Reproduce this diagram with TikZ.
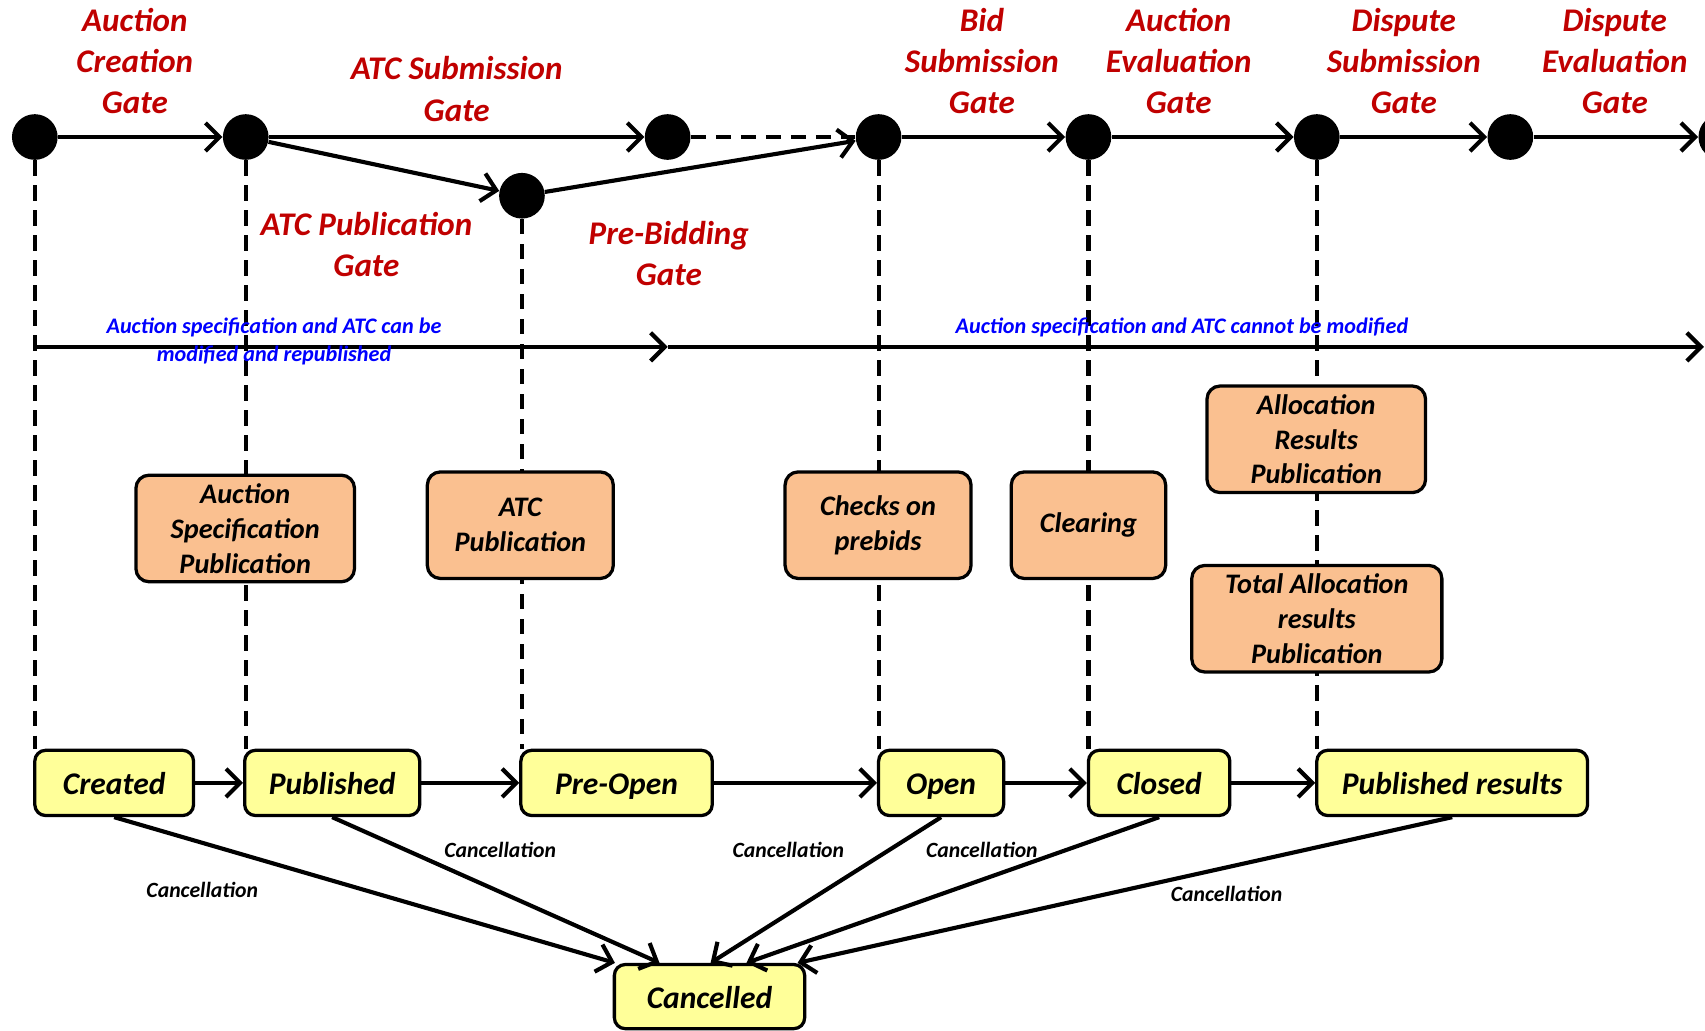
\documentclass[tikz,border=0pt]{standalone}
\usepackage{fontspec}
\setmainfont{Carlito}
\usetikzlibrary{arrows.meta}
\definecolor{gatered}{RGB}{192,0,0}
\definecolor{orangefill}{RGB}{250,192,144}
\definecolor{yellowfill}{RGB}{255,255,153}
\definecolor{noteblue}{RGB}{0,0,255}
\begin{document}
\begin{tikzpicture}[x=0.5pt,y=-0.5pt,
  gate/.style={circle,fill=black,minimum size=21pt,inner sep=0pt},
  arr/.style={line width=1.9pt,-{Straight Barb[length=6.5pt,width=13pt]}},
  dline/.style={line width=1.9pt,dash pattern=on 7pt off 4.5pt},
  redlbl/.style={text=gatered,font=\fontsize{15.2}{19}\selectfont\bfseries\itshape,align=center,inner sep=0pt},
  bluelbl/.style={text=noteblue,font=\fontsize{10.2}{12.5}\selectfont\bfseries\itshape,align=center,inner sep=0pt},
  cancl/.style={font=\fontsize{10}{12}\selectfont\bfseries\itshape,inner sep=0pt},
  actbox/.style={draw,line width=1.5pt,rounded corners=6pt,fill=orangefill,
    font=\fontsize{13}{16}\selectfont\bfseries\itshape,align=center,inner sep=0pt,minimum height=49pt},
  statebox/.style={draw,line width=1.5pt,rounded corners=5pt,fill=yellowfill,
    font=\fontsize{14.5}{17}\selectfont\bfseries\itshape,align=center,inner sep=0pt,
    text height=12pt,text depth=1.5pt,minimum height=30pt}]
\useasboundingbox (0,0) rectangle (1568,948);
\clip (0,0) rectangle (1568,948);

% gates
\node[gate] (g1) at (32,126) {};
\node[gate] (g2) at (226,126) {};
\node[gate] (g3) at (614,126) {};
\node[gate] (g4) at (808,126) {};
\node[gate] (g5) at (1001,126) {};
\node[gate] (g6) at (1211,126) {};
\node[gate] (g7) at (1389,126) {};
\node[gate] (g8) at (1583,126) {};
\node[gate] (gp) at (480,180) {};

% gate labels
\node[redlbl] (l1) at (124,56) {Auction\\Creation\\Gate};
\node[redlbl] (l2) at (420,82) {ATC Submission\\Gate};
\node[redlbl] (l3) at (337,225) {ATC Publication\\Gate};
\node[redlbl] (l4) at (615,233) {Pre-Bidding\\Gate};
\node[redlbl] (l5) at (903,56) {Bid\\Submission\\Gate};
\node[redlbl] (l6) at (1084,56) {Auction\\Evaluation\\Gate};
\node[redlbl] (l7) at (1291,56) {Dispute\\Submission\\Gate};
\node[redlbl] (l8) at (1485,56) {Dispute\\Evaluation\\Gate};

% state boxes
\node[statebox,minimum width=73pt] (created) at (105,720) {Created};
\node[statebox,minimum width=80.5pt] (published) at (305.5,720) {Published};
\node[statebox,minimum width=88pt] (preopen) at (567,720) {Pre-Open};
\node[statebox,minimum width=57.5pt] (open) at (865.5,720) {Open};
\node[statebox,minimum width=65pt] (closed) at (1066,720) {Closed};
\node[statebox,minimum width=124.5pt] (pubres) at (1335.5,720) {Published results};
\node[statebox,minimum width=87.5pt,minimum height=29.5pt] (cancelled) at (652.5,916.5) {Cancelled};

% vertical dashed lines (behind activity boxes)
\draw[dline] (g1.south) -- (g1.south |- created.north);
\draw[dline] (g2.south) -- (g2.south |- published.north);
\draw[dline] (gp.south) -- (gp.south |- preopen.north);
\draw[dline] (g4.south) -- (g4.south |- open.north);
\draw[dline] (g5.south) -- (g5.south |- closed.north);
\draw[dline] (g6.south) -- (g6.south |- pubres.north);

% gate connectors
\draw[arr] (g1) -- (g2);
\draw[arr] (g2) -- (g3);
\draw[dline] (g3) -- (g4);
\draw[arr] (g2) -- (gp);
\draw[arr] (gp) -- (g4);
\draw[arr] (g4) -- (g5);
\draw[arr] (g5) -- (g6);
\draw[arr] (g6) -- (g7);
\draw[arr] (g7) -- (g8);

% modification timeline
\coordinate (b0) at (32,319);
\coordinate (b1) at (614,319);
\coordinate (b2) at (1567,319);
\draw[arr] (b0) -- (b1);
\draw[arr] (b1) -- (b2);
\node[bluelbl] (n1) at (252,314) {Auction specification and ATC can be\\modified and republished};
\node[bluelbl] (n2) at (1087,301) {Auction specification and ATC cannot be modified};

% activity boxes
\node[actbox,minimum width=100.5pt] (asp) at (225.5,486) {Auction\\Specification\\Publication};
\node[actbox,minimum width=85.5pt] (atcpub) at (478.5,483) {ATC\\Publication};
\node[actbox,minimum width=85.5pt] (checks) at (807.5,483) {Checks on\\prebids};
\node[actbox,minimum width=71pt] (clearing) at (1001,483) {Clearing};
\node[actbox,minimum width=100.5pt] (alloc) at (1210.5,404) {Allocation\\Results\\Publication};
\node[actbox,minimum width=115pt] (total) at (1211,569) {Total Allocation\\results\\Publication};

% state transitions
\draw[arr] (created) -- (published);
\draw[arr] (published) -- (preopen);
\draw[arr] (preopen) -- (open);
\draw[arr] (open) -- (closed);
\draw[arr] (closed) -- (pubres);

% cancellations
\draw[arr] (created.south) -- ([xshift=1pt]cancelled.north west);
\draw[arr] (published.south) -- ([xshift=21.5pt]cancelled.north west);
\draw[arr] (open.south) -- ([xshift=45pt]cancelled.north west);
\draw[arr] (closed.south) -- ([xshift=61.5pt]cancelled.north west);
\draw[arr] (pubres.south) -- ([xshift=85pt]cancelled.north west);

\node[cancl] (c1) at (186,818) {Cancellation};
\node[cancl] (c2) at (460,782) {Cancellation};
\node[cancl] (c3) at (725,782) {Cancellation};
\node[cancl] (c4) at (903,782) {Cancellation};
\node[cancl] (c5) at (1128,822) {Cancellation};
\end{tikzpicture}
\end{document}
